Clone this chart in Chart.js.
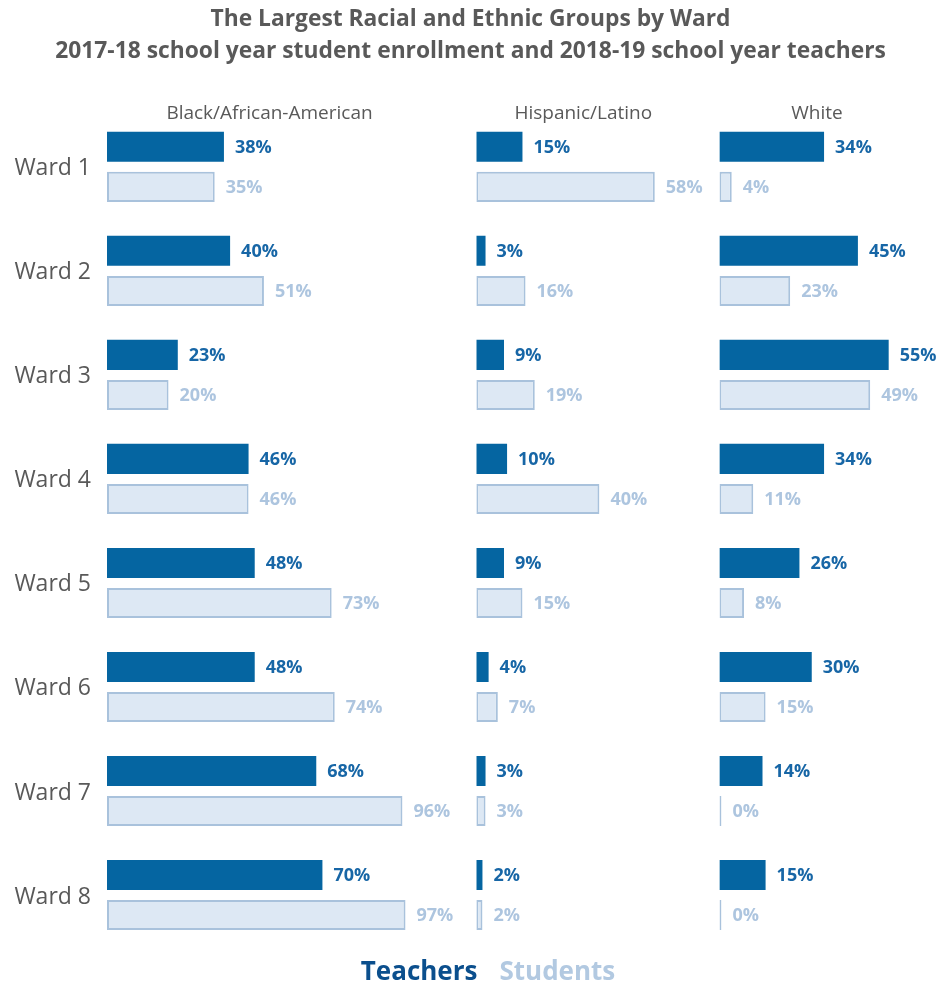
<!DOCTYPE html>
<html>
<head>
<meta charset="utf-8">
<title>Largest Racial and Ethnic Groups by Ward</title>
<script src="https://cdn.jsdelivr.net/npm/chart.js@4/dist/chart.umd.min.js"></script>
<style>
  html, body { margin: 0; padding: 0; background: #fff; }
  #wrap { width: 941px; height: 987px; }
</style>
</head>
<body>
<div id="wrap"><canvas id="wardChart" width="941" height="987"></canvas></div>
<script>
const wards = ["Ward 1", "Ward 2", "Ward 3", "Ward 4", "Ward 5", "Ward 6", "Ward 7", "Ward 8"];
const groups = ["Black/African-American", "Hispanic/Latino", "White"];

// teachers 2018-19, students 2017-18 (percent of each ward)
const blackTeachers = [38, 40, 23, 46, 48, 48, 68, 70];
const blackStudents = [35, 51, 20, 46, 73, 74, 96, 97];
const hispanicTeachers = [15, 3, 9, 10, 9, 4, 3, 2];
const hispanicStudents = [58, 16, 19, 40, 15, 7, 3, 2];
const whiteTeachers = [34, 45, 55, 34, 26, 30, 14, 15];
const whiteStudents = [4, 23, 49, 11, 8, 15, 0, 0];

const FONT = "'Open Sans', 'DejaVu Sans', sans-serif";
const GRAY = "#595959";
const TEACHER_FILL = "#0565a1";
const TEACHER_TEXT = "#1766a6";
const STUDENT_FILL = "#dde8f4";
const STUDENT_LINE = "#a9c2dc";
const STUDENT_TEXT = "#adc5df";

// each panel gets its own x axis; the axes sit side by side in one stack
const panelMax = [120, 79, 72];
const axisIds = ["x1", "x2", "x3"];

function teacherSet(data, i) {
  return {
    label: "Teachers",
    data,
    xAxisID: axisIds[i],
    stack: "teachers",
    backgroundColor: TEACHER_FILL,
    borderWidth: 0,
    textColor: TEACHER_TEXT,
    legendColor: "#0b4f8d",
  };
}

function studentSet(data, i) {
  return {
    label: "Students",
    data,
    xAxisID: axisIds[i],
    stack: "students",
    backgroundColor: STUDENT_FILL,
    borderColor: STUDENT_LINE,
    borderWidth: 2,
    borderSkipped: false,
    minBarLength: 2,
    textColor: STUDENT_TEXT,
    legendColor: "#b2c9e1",
  };
}

const datasets = [
  teacherSet(blackTeachers, 0), studentSet(blackStudents, 0),
  teacherSet(hispanicTeachers, 1), studentSet(hispanicStudents, 1),
  teacherSet(whiteTeachers, 2), studentSet(whiteStudents, 2),
];

const xScales = {};
axisIds.forEach((id, i) => {
  xScales[id] = {
    type: "linear",
    axis: "x",
    position: "bottom",
    stack: "panels",
    stackWeight: panelMax[i],
    stacked: false,
    min: 0,
    max: panelMax[i],
    display: false,
    title: { display: false, text: groups[i] },
  };
});

// percent labels at the end of every bar
const barLabels = {
  id: "barLabels",
  afterDatasetsDraw(chart) {
    const ctx = chart.ctx;
    ctx.save();
    ctx.font = "bold 18px " + FONT;
    ctx.textAlign = "left";
    ctx.textBaseline = "middle";
    chart.data.datasets.forEach((ds, di) => {
      const meta = chart.getDatasetMeta(di);
      ctx.fillStyle = ds.textColor;
      meta.data.forEach((bar, j) => {
        ctx.fillText(ds.data[j] + "%", bar.x + 11, bar.y + 1);
      });
    });
    ctx.restore();
  },
};

// group name above each panel
const panelHeaders = {
  id: "panelHeaders",
  afterDraw(chart) {
    const ctx = chart.ctx;
    ctx.save();
    ctx.font = "19px " + FONT;
    ctx.fillStyle = GRAY;
    ctx.textAlign = "center";
    ctx.textBaseline = "middle";
    axisIds.forEach((id) => {
      const s = chart.scales[id];
      ctx.fillText(s.options.title.text, s.left + s.width * 0.44, 114);
    });
    ctx.restore();
  },
};

// coloured words instead of legend boxes
const wordLegend = {
  id: "wordLegend",
  afterDraw(chart) {
    const ctx = chart.ctx;
    const items = chart.data.datasets.slice(0, 2);
    const gap = 22;
    ctx.save();
    ctx.font = "bold 26px " + FONT;
    ctx.textBaseline = "middle";
    ctx.textAlign = "left";
    const widths = items.map((d) => ctx.measureText(d.label).width);
    const total = widths.reduce((a, b) => a + b, 0) + gap * (items.length - 1);
    let x = 488 - total / 2;
    items.forEach((d, i) => {
      ctx.fillStyle = d.legendColor;
      ctx.fillText(d.label, x, 973);
      x += widths[i] + gap;
    });
    ctx.restore();
  },
};

new Chart(document.getElementById("wardChart"), {
  type: "bar",
  data: { labels: wards, datasets },
  plugins: [barLabels, panelHeaders, wordLegend],
  options: {
    indexAxis: "y",
    responsive: false,
    animation: false,
    layout: { padding: { top: 0, right: 0, bottom: 40, left: 0 } },
    datasets: {
      bar: { categoryPercentage: 0.77, barPercentage: 0.75 },
    },
    scales: {
      y: {
        type: "category",
        grid: { display: false, drawTicks: false },
        border: { display: false },
        ticks: {
          color: GRAY,
          padding: 16,
          labelOffset: 2,
          font: { family: FONT, size: 23 },
        },
        afterFit(scale) {
          scale.width = 107;
        },
      },
      ...xScales,
    },
    plugins: {
      legend: { display: false },
      tooltip: { enabled: false },
      title: {
        display: true,
        text: [
          "The Largest Racial and Ethnic Groups by Ward",
          "2017-18 school year student enrollment and 2018-19 school year teachers",
        ],
        color: GRAY,
        font: { family: FONT, size: 22.8, weight: "bold", lineHeight: 1.4 },
        padding: { top: 4, bottom: 47 },
      },
    },
  },
});
</script>
</body>
</html>
